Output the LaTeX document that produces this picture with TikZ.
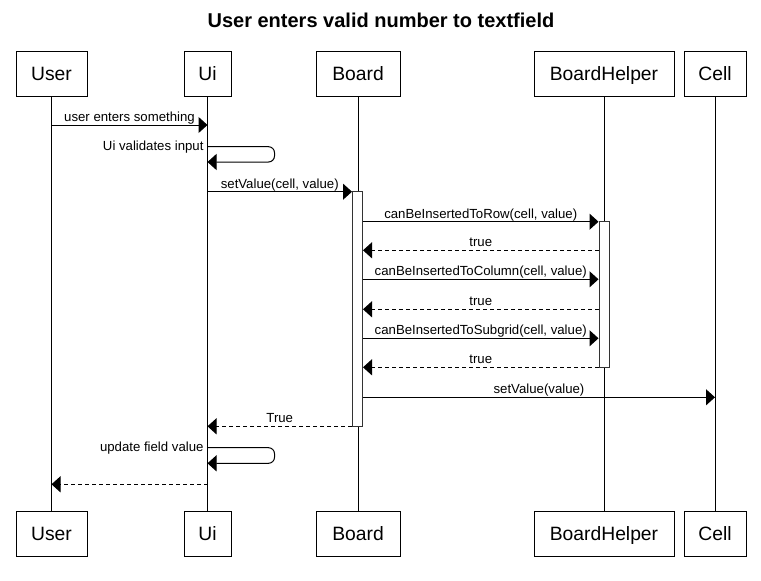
\documentclass[tikz,border=0pt]{standalone}
\usepackage{fontspec}
\setmainfont{Liberation Sans}
\usetikzlibrary{arrows.meta}
\tikzset{
  actor/.style={draw=black, line width=1pt, fill=white, minimum height=45pt, inner sep=0pt,
    text height=14pt, text depth=0pt, font=\fontsize{19.3}{22}\selectfont},
  lifeline/.style={draw=black, line width=1pt},
  activation/.style={draw=black!80, line width=1pt, fill=white, minimum width=10pt, inner sep=0pt},
  msg/.style={draw=black, line width=1pt, -{Triangle[length=9pt,width=16pt]}},
  reply/.style={msg, dash pattern=on 4pt off 3pt},
  lbl/.style={font=\fontsize{13.2}{15}\selectfont, inner sep=0pt, outer sep=0pt, anchor=base, yshift=3.6pt},
  selflbl/.style={font=\fontsize{13.2}{15}\selectfont, inner sep=0pt, outer sep=0pt, anchor=base east},
}
\begin{document}
\begin{tikzpicture}[x=1pt,y=-1pt]
\useasboundingbox (0,0) rectangle (761,581);
\node[font=\bfseries\fontsize{20}{24}\selectfont] (title) at (381,20.5) {User enters valid number to textfield};
% top boxes
\node[actor, minimum width=71pt] (user) at (51.5,73.5) {User};
\node[actor, minimum width=47pt] (ui) at (207.5,73.5) {Ui};
\node[actor, minimum width=84pt] (board) at (358,73.5) {Board};
\node[actor, minimum width=140pt] (helper) at (604,73.5) {BoardHelper};
\node[actor, minimum width=62pt] (cell) at (715,73.5) {Cell};
% bottom boxes
\node[actor, minimum width=71pt] (user2) at (51.5,533.5) {User};
\node[actor, minimum width=47pt] (ui2) at (207.5,533.5) {Ui};
\node[actor, minimum width=84pt] (board2) at (358,533.5) {Board};
\node[actor, minimum width=140pt] (helper2) at (604,533.5) {BoardHelper};
\node[actor, minimum width=62pt] (cell2) at (715,533.5) {Cell};
% lifelines
\draw[lifeline] (user) -- (user2);
\draw[lifeline] (ui) -- (ui2);
\draw[lifeline] (board) -- (board2);
\draw[lifeline] (helper) -- (helper2);
\draw[lifeline] (cell) -- (cell2);
% activations
\node[activation, minimum height=234.3pt] (actB) at (357.5,309.1) {};
\node[activation, minimum height=146pt] (actH) at (604,294.7) {};
% messages
\draw[msg] (user |- 0,125) -- node[lbl] {user enters something} (ui |- 0,125);
\node[selflbl] (l1) at (203.5,150.3) {Ui validates input};
\draw[msg, rounded corners=6pt] (ui |- 0,146.7)
  -- ([xshift=67pt]ui |- 0,146.7) -- ([xshift=67pt]ui |- 0,162) -- (ui |- 0,162);
\draw[msg] (ui |- 0,191.7) -- node[lbl] {setValue(cell, value)} (actB.west |- 0,191.7);
\draw[msg] (actB.east |- 0,221.7) -- node[lbl] {canBeInsertedToRow(cell, value)} (actH.west |- 0,221.7);
\draw[reply] (actH.west |- 0,250.3) -- node[lbl] {true} (actB.east |- 0,250.3);
\draw[msg] (actB.east |- 0,279.3) -- node[lbl] {canBeInsertedToColumn(cell, value)} (actH.west |- 0,279.3);
\draw[reply] (actH.west |- 0,309.3) -- node[lbl] {true} (actB.east |- 0,309.3);
\draw[msg] (actB.east |- 0,338.3) -- node[lbl] {canBeInsertedToSubgrid(cell, value)} (actH.west |- 0,338.3);
\draw[reply] (actH.west |- 0,367.3) -- node[lbl] {true} (actB.east |- 0,367.3);
\draw[msg] (actB.east |- 0,397.3) -- node[lbl] {setValue(value)} (cell |- 0,397.3);
\draw[reply] (actB.west |- 0,426.3) -- node[lbl] {True} (ui |- 0,426.3);
\node[selflbl] (l2) at (203.5,451.3) {update field value};
\draw[msg, rounded corners=6pt] (ui |- 0,447.7)
  -- ([xshift=67pt]ui |- 0,447.7) -- ([xshift=67pt]ui |- 0,463.3) -- (ui |- 0,463.3);
\draw[reply] (ui |- 0,484.3) -- (user |- 0,484.3);
\end{tikzpicture}
\end{document}
